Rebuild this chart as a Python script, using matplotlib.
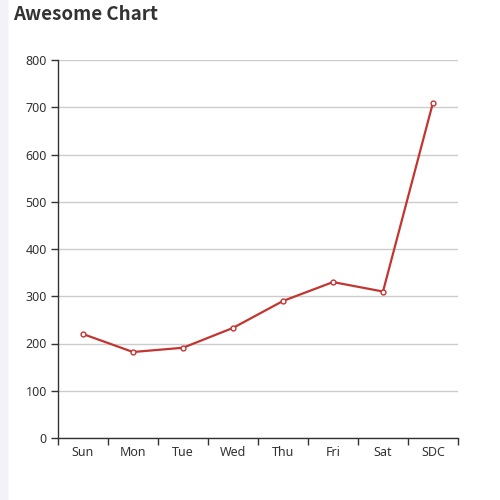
import matplotlib.pyplot as plt
from matplotlib.patches import FancyBboxPatch
import numpy as np

days = ["Sun", "Mon", "Tue", "Wed", "Thu", "Fri", "Sat", "SDC"]
values = [220, 182, 191, 233, 290, 330, 310, 710]
y_ticks = [0, 100, 200, 300, 400, 500, 600, 700, 800]

plt.rcParams['font.family'] = ['Noto Sans', 'DejaVu Sans']

fig = plt.figure(figsize=(5, 5), dpi=100)
fig.patch.set_facecolor('#f2f2f8')
# white card with rounded corner, behind the axes
card = FancyBboxPatch((0.017, -0.05), 1.1, 1.1, boxstyle="round,pad=0,rounding_size=0.02",
                      transform=fig.transFigure, facecolor='white', edgecolor='none', zorder=-10)
fig.add_artist(card)

ax = fig.add_axes([0.116, 0.124, 0.8, 0.756])
ax.set_facecolor('none')
ax.set_zorder(5)

x = np.arange(len(days))
ax.plot(x, values, color='#c23531', lw=1.6, marker='o', ms=3.5,
        markerfacecolor='white', markeredgecolor='#c23531', markeredgewidth=1, zorder=3)

ax.set_xlim(-0.5, len(days) - 0.5)
ax.set_ylim(0, 800)
ax.set_yticks(y_ticks)
ax.set_xticks(np.arange(len(days) + 1) - 0.5)
ax.set_xticklabels([])
ax.set_xticks(x, minor=True)
ax.set_xticklabels(days, minor=True)
ax.tick_params(axis='x', which='major', length=5, width=1, color='#333333', direction='out')
ax.tick_params(axis='x', which='minor', length=0, pad=6, labelsize=9, labelcolor='#333333')
ax.tick_params(axis='y', length=5, width=1, color='#333333', labelsize=9, labelcolor='#333333', pad=3)

ax.grid(axis='y', color='#cccccc', lw=1)
ax.set_axisbelow(True)
for s in ['top', 'right']:
    ax.spines[s].set_visible(False)
for s in ['left', 'bottom']:
    ax.spines[s].set_color('#333333')
    ax.spines[s].set_linewidth(1)

fig.text(0.026, 0.972, "Awesome Chart", fontsize=13.5, fontweight='bold',
         family=['Noto Sans CJK SC', 'DejaVu Sans'],
         color='#333333', ha='left', va='center')

fig.savefig('out.png', dpi=100)
